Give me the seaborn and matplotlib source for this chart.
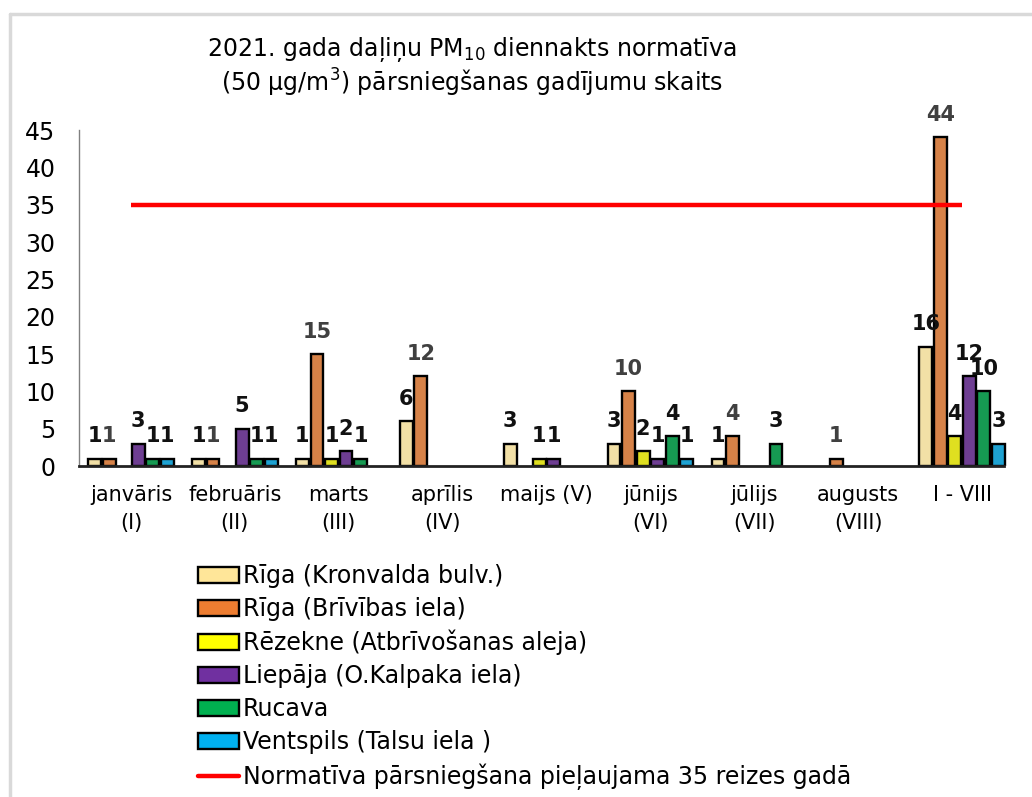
import numpy as np
import pandas as pd
import matplotlib
matplotlib.use("Agg")
import matplotlib.pyplot as plt
import seaborn as sns
from matplotlib.patches import Patch
from matplotlib.lines import Line2D

months = ["janvāris\n(I)", "februāris\n(II)", "marts\n(III)", "aprīlis\n(IV)",
          "maijs (V)", "jūnijs\n(VI)", "jūlijs\n(VII)", "augusts\n(VIII)", "I - VIII"]
stations = ["Rīga (Kronvalda bulv.)", "Rīga (Brīvības iela)", "Rēzekne (Atbrīvošanas aleja)",
            "Liepāja (O.Kalpaka iela)", "Rucava", "Ventspils (Talsu iela )"]
kronvalda = [1, 1, 1, 6, 3, 3, 1, 0, 16]
brivibas = [1, 1, 15, 12, 0, 10, 4, 1, 44]
rezekne = [0, 0, 1, 0, 1, 2, 0, 0, 4]
liepaja = [3, 5, 2, 0, 1, 1, 0, 0, 12]
rucava = [1, 1, 1, 0, 0, 4, 3, 0, 10]
ventspils = [1, 1, 0, 0, 0, 1, 0, 0, 3]
limit_value = 35
limit_label = "Normatīva pārsniegšana pieļaujama 35 reizes gadā"
colors = ["#FFE699", "#ED7D31", "#FFFF00", "#7030A0", "#00B050", "#00B0F0"]

series = [kronvalda, brivibas, rezekne, liepaja, rucava, ventspils]
rows = []
for st, vals in zip(stations, series):
    for m, v in zip(months, vals):
        rows.append({"month": m, "station": st, "value": v if v > 0 else np.nan})
df = pd.DataFrame(rows)

sns.set_style("white")
plt.rcParams["font.family"] = ["DejaVu Sans"]
plt.rcParams["text.color"] = "black"
plt.rcParams["xtick.color"] = "black"
plt.rcParams["ytick.color"] = "black"

fig = plt.figure(figsize=(10.32, 7.97), dpi=100)
ax = fig.add_axes([79/1032, 1-466/797, (1014-79)/1032, (466-130)/797])

sns.barplot(data=df, x="month", y="value", hue="station", hue_order=stations,
            order=months, palette=colors, width=0.84, gap=0.12,
            edgecolor="black", linewidth=1.7, errorbar=None, legend=False, ax=ax)

for i, c in enumerate(ax.containers):
    labels = [f"{int(v)}" if (v == v and v > 0) else "" for v in c.datavalues]
    ax.bar_label(c, labels=labels, padding=9, fontsize=15, fontweight="bold",
                 color="#404040" if i == 1 else "#111111")

ax.plot(range(len(months)), [limit_value] * len(months), color="#FF0000", lw=3.2,
        solid_capstyle="butt", zorder=5)

ax.set_xlim(-0.5, len(months) - 0.5)
ax.set_ylim(0, 45)
ax.set_yticks(range(0, 46, 5))
ax.set_xlabel("")
ax.set_ylabel("")
ax.tick_params(axis="y", length=0, pad=17, labelsize=17)
ax.tick_params(axis="x", length=0, pad=14, labelsize=15)
for t in ax.get_xticklabels():
    t.set_linespacing(1.45)
    t.set_va("top")
for s in ["top", "right"]:
    ax.spines[s].set_visible(False)
ax.spines["left"].set_color("#808080")
ax.spines["left"].set_linewidth(1.0)
ax.spines["bottom"].set_color("#222222")
ax.spines["bottom"].set_linewidth(2.0)
ax.spines["bottom"].set_bounds(-0.5, len(months) - 0.6)

fig.text(472/1032, 1-67/797,
         "2021. gada daļiņu PM$_{10}$ diennakts normatīva\n(50 μg/m$^3$) pārsniegšanas gadījumu skaits",
         ha="center", va="center", fontsize=17, linespacing=1.15, multialignment="center")

handles = [Patch(facecolor=c, edgecolor="black", linewidth=1.7) for c in colors]
handles.append(Line2D([0], [0], color="#FF0000", lw=3.2))
fig.legend(handles, stations + [limit_label], loc="upper left",
           bbox_to_anchor=(198/1032, 1-564/797), frameon=False, fontsize=17,
           handlelength=1.75, handleheight=0.65, handletextpad=0.15, labelspacing=0.38,
           borderaxespad=0, borderpad=0)

fig.add_artist(Line2D([10/1032, 10/1032], [0, 1-14/797], color="#d9d9d9", lw=2.5,
                      transform=fig.transFigure))
fig.add_artist(Line2D([10/1032, 1], [1-14/797, 1-14/797], color="#d9d9d9", lw=2.5,
                      transform=fig.transFigure))

fig.savefig("out.png", dpi=100)
